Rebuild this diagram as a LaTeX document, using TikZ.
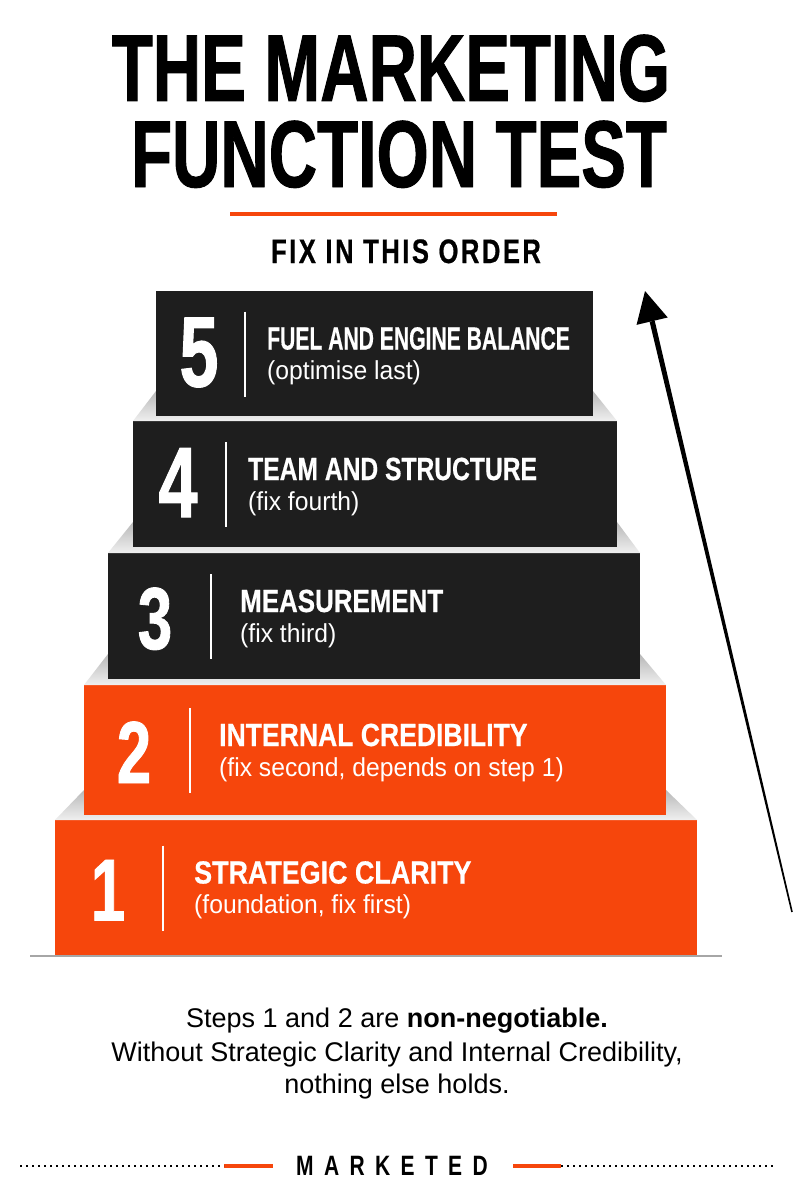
\documentclass[tikz,border=0pt]{standalone}
\usepackage{graphicx}
\usepackage{fontspec}
\setmainfont{Liberation Sans}
\newfontfamily\titlefont[FakeStretch=0.705,FakeBold=1]{Liberation Sans}
\newfontfamily\stepfont[FakeBold=0.6]{Liberation Sans}
\newfontfamily\numfont[FakeStretch=0.7,FakeBold=1]{Liberation Sans}
\newfontfamily\subfont[FakeStretch=0.95]{Liberation Sans}
\newfontfamily\orderfont[FakeStretch=0.75,FakeBold=0.6,LetterSpace=7.5]{Liberation Sans}
\newfontfamily\brandfont[FakeStretch=0.75,LetterSpace=37]{Liberation Sans}
\usetikzlibrary{calc}
\definecolor{stepred}{RGB}{246,70,12}
\definecolor{stepdark}{RGB}{30,30,30}

\begin{document}
\begin{tikzpicture}[x=1pt,y=-1pt,
 stepbox/.style={draw=none,inner sep=0pt,outer sep=0pt},
 headtext/.style={anchor=base west,inner sep=0pt,text=white,font=\stepfont\bfseries\fontsize{32}{32}\selectfont},
 subtext/.style={anchor=base west,inner sep=0pt,text=white,font=\subfont\fontsize{26}{26}\selectfont},
 notetext/.style={anchor=base,font=\fontsize{27}{27}\selectfont},
 divider/.style={white,line width=1.8pt},
 redbar/.style={stepred,line width=4pt},
 dotline/.style={line width=2.2pt,dash pattern=on 2.2pt off 3.8pt}]
\useasboundingbox (0,0) rectangle (800,1180);
\fill[white] (0,0) rectangle (800,1180);
\node[anchor=base,font=\titlefont\bfseries\fontsize{95}{95}\selectfont] (title1) at (391,101) {THE MARKETING};
\node[anchor=base,font=\titlefont\bfseries\fontsize{95}{95}\selectfont] (title2) at (399,187) {FUNCTION TEST};
\draw[redbar] (230,214) -- (557,214);
\node[anchor=base,font=\orderfont\bfseries\fontsize{34}{34}\selectfont] (order) at (406,263) {FIX IN THIS ORDER};
\draw[black!35,line width=1.6pt] (30,956) -- (722,956);
\foreach \n/\xl/\xr/\yt/\yb/\nx/\ns/\dx/\tx/\sx/\head/\note in {
 1/55/697/820/955/108/88/163/194/.84/{STRATEGIC CLARITY}/{(foundation, fix first)},
 2/84/666/685/815/134/88/190/219/.83/{INTERNAL CREDIBILITY}/{(fix second, depends on step 1)},
 3/108/640/553/679/155/88/211/240/.81/{MEASUREMENT}/{(fix third)},
 4/133/617/421/547/178/100/226/248/.77/{TEAM AND STRUCTURE}/{(fix fourth)},
 5/156/593/291/416/199/100/245/267/.66/{FUEL AND ENGINE BALANCE}/{(optimise last)}}{
 \pgfmathsetmacro{\yc}{(\yt+\yb)/2}
 \ifnum\n>1
  \pgfmathtruncatemacro{\m}{\n-1}
  \shade[top color=black!28,bottom color=black!6] (\xl,\yb-25) -- (box\m.north west) -- (box\m.north east) -- (\xr,\yb-25) -- cycle;
 \fi
 \ifnum\n<3 \def\boxcol{stepred}\else\def\boxcol{stepdark}\fi
 \node[stepbox,fill=\boxcol,minimum width=\xr-\xl,minimum height=\yb-\yt] (box\n) at ({(\xl+\xr)/2},\yc) {};
 \node[anchor=base,text=white,font=\numfont\bfseries\fontsize{\ns}{\ns}\selectfont] (num\n) at (\nx,\yc+33) {\n};
 \draw[divider] (\dx,\yc-42) -- (\dx,\yc+43);
 \node[headtext] (head\n) at (\tx,\yc-4) {\scalebox{\sx}[1]{\head}};
 \node[subtext] (sub\n) at (\tx,\yc+26) {\note};
}
\coordinate (arrowtail) at (792,912);
\coordinate (arrowtip) at (645,291);
\coordinate (arrowbase) at ($(arrowtip)!31pt!(arrowtail)$);
\fill ($(arrowtail)!.8pt!90:(arrowtip)$) -- ($(arrowtail)!.8pt!-90:(arrowtip)$) -- ($(arrowbase)!2.6pt!90:(arrowtail)$) -- ($(arrowbase)!2.6pt!-90:(arrowtail)$) -- cycle;
\fill (arrowtip) -- ($(arrowbase)!16pt!90:(arrowtip)$) -- ($(arrowbase)!16pt!-90:(arrowtip)$) -- cycle;
\node[notetext] (note1) at (397,1027) {Steps 1 and 2 are \textbf{non-negotiable.}};
\node[notetext] (note2) at (397,1061) {Without Strategic Clarity and Internal Credibility,};
\node[notetext] (note3) at (397,1093) {nothing else holds.};
\node[anchor=base,font=\brandfont\bfseries\fontsize{28}{28}\selectfont] (brand) at (392,1175) {MARKETED};
\draw[redbar] (224,1166) -- (273,1166);
\draw[redbar] (513,1166) -- (561,1166);
\draw[dotline] (20,1166) -- (224,1166);
\draw[dotline] (561,1166) -- (773,1166);
\end{tikzpicture}
\end{document}
